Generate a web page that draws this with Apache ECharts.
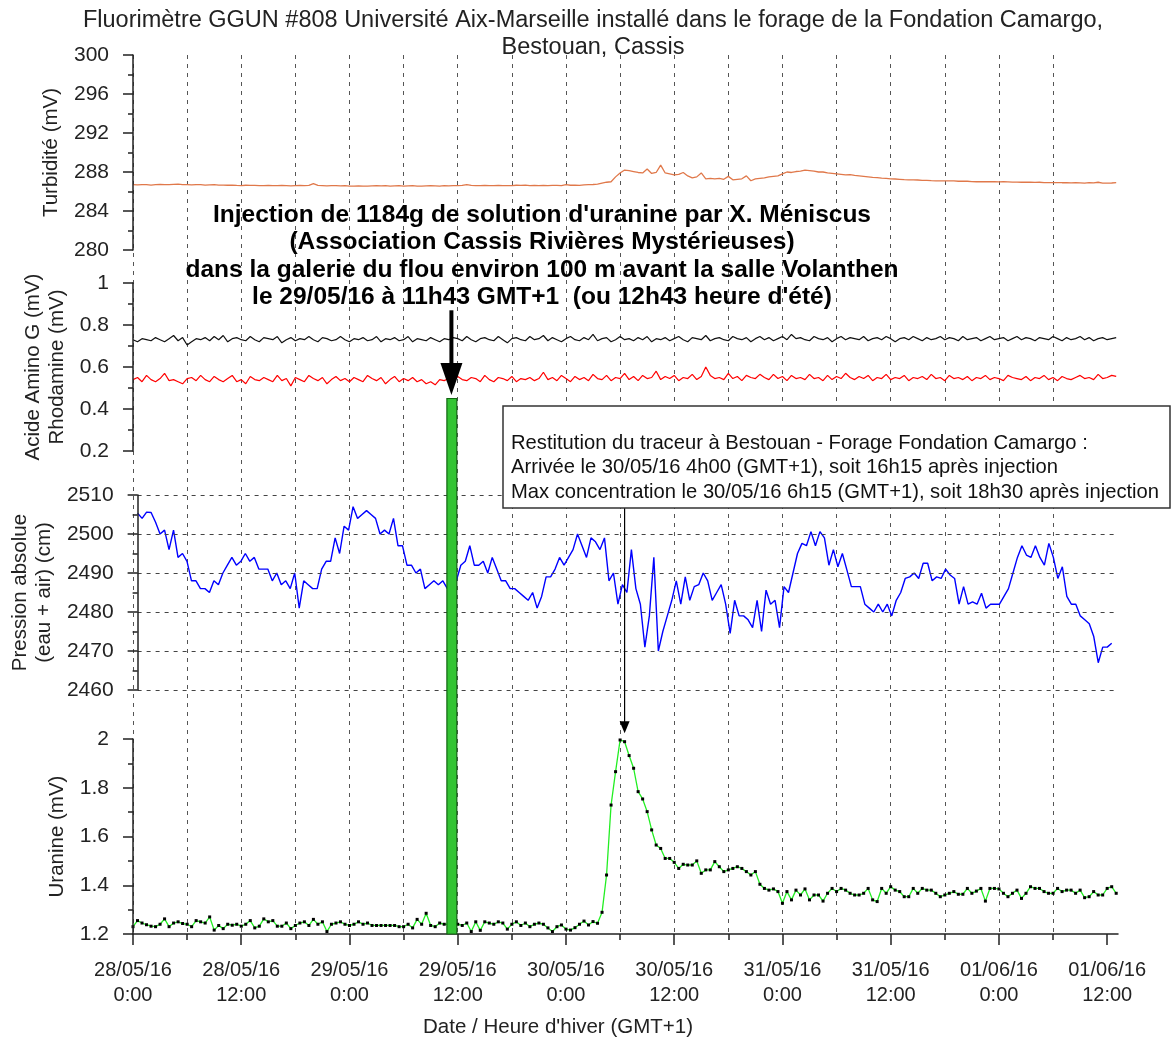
<!DOCTYPE html>
<html><head><meta charset="utf-8">
<script src="https://cdn.jsdelivr.net/npm/echarts@6/dist/echarts.min.js"></script>
<style>html,body{margin:0;padding:0;background:#fff}#c{width:1175px;height:1039px}</style>
</head><body><div id="c"></div>
<script>
// ---------- DATA (time in hours since 28/05/16 0:00, GMT+1) ----------
const step = 0.5;        // hours between samples

const turbidite = [286.7,286.68,286.7,286.7,286.66,286.7,286.72,286.7,286.7,286.74,
286.75,286.7,286.7,286.68,286.7,286.7,286.66,286.68,286.7,286.66,
286.66,286.64,286.65,286.62,286.6,286.64,286.62,286.62,286.6,286.6,
286.62,286.6,286.6,286.62,286.6,286.58,286.6,286.62,286.6,286.62,
286.8,286.62,286.6,286.58,286.6,286.6,286.58,286.6,286.56,286.56,
286.58,286.56,286.56,286.58,286.6,286.58,286.6,286.56,286.58,286.6,
286.56,286.58,286.6,286.56,286.56,286.58,286.6,286.58,286.56,286.6,
286.58,286.6,286.6,286.62,286.7,286.62,286.6,286.6,286.62,286.6,
286.6,286.62,286.6,286.6,286.6,286.64,286.62,286.66,286.6,286.62,
286.6,286.62,286.6,286.62,286.62,286.6,286.7,286.64,286.65,286.62,
286.68,286.7,286.72,286.75,286.85,286.95,287.0,287.5,287.9,288.2,
288.15,288.05,287.95,287.9,288.3,287.85,287.95,288.7,287.9,287.8,
287.7,287.75,287.95,287.6,287.4,287.5,287.9,287.3,287.35,287.3,
287.35,287.25,287.55,287.2,287.25,287.3,287.6,287.1,287.3,287.35,
287.4,287.5,287.55,287.6,287.8,288.0,287.95,288.05,288.1,288.2,
288.15,288.1,288.0,288.0,287.9,287.85,287.8,287.75,287.7,287.72,
287.65,287.6,287.55,287.5,287.45,287.42,287.38,287.35,287.3,287.28,
287.25,287.22,287.2,287.2,287.18,287.15,287.15,287.12,287.1,287.1,
287.1,287.08,287.08,287.05,287.05,287.05,287.02,287.0,287.0,287.02,
287.0,287.0,286.98,287.0,286.98,286.96,286.96,286.95,286.95,286.96,
286.94,286.95,286.92,286.92,286.9,286.92,286.9,286.9,286.88,286.9,
286.88,286.86,286.9,286.88,286.95,286.86,286.85,286.87,286.9];

const acideAminoG = [.73,.72,.735,.73,.725,.74,.73,.72,.735,.75,
.725,.74,.705,.72,.735,.73,.74,.725,.745,.73,
.75,.72,.735,.74,.73,.725,.745,.73,.72,.74,
.735,.73,.745,.715,.73,.74,.725,.735,.73,.745,
.73,.72,.74,.735,.725,.73,.745,.73,.72,.735,
.73,.74,.725,.73,.745,.72,.735,.73,.74,.725,
.73,.745,.72,.735,.73,.725,.74,.73,.72,.735,
.73,.74,.735,.725,.745,.73,.72,.735,.74,.73,
.725,.745,.73,.715,.735,.74,.73,.725,.745,.73,
.735,.75,.725,.74,.73,.72,.735,.745,.73,.725,
.74,.73,.755,.725,.735,.74,.72,.73,.745,.73,
.735,.725,.74,.73,.745,.72,.735,.73,.74,.725,
.735,.745,.73,.72,.74,.735,.73,.75,.725,.735,
.74,.73,.725,.745,.735,.73,.74,.72,.735,.745,
.73,.74,.725,.735,.745,.73,.755,.735,.74,.73,
.725,.745,.735,.73,.74,.72,.735,.745,.73,.74,
.735,.73,.745,.725,.735,.74,.73,.745,.735,.72,
.735,.74,.73,.745,.735,.725,.74,.73,.735,.745,
.73,.74,.735,.725,.745,.73,.735,.74,.725,.735,
.745,.73,.735,.74,.725,.735,.745,.73,.74,.735,
.725,.74,.735,.73,.745,.735,.725,.74,.73,.735,
.745,.73,.74,.725,.735,.74,.73,.735,.74];

const rhodamine = [.54,.55,.53,.56,.54,.53,.545,.57,.535,.54,
.53,.52,.545,.55,.535,.56,.54,.53,.555,.54,
.53,.545,.56,.53,.54,.52,.555,.54,.535,.55,
.54,.53,.56,.535,.545,.51,.55,.54,.53,.56,
.545,.535,.55,.52,.54,.555,.535,.545,.53,.55,
.54,.53,.56,.545,.535,.55,.52,.54,.555,.53,
.545,.535,.55,.53,.54,.52,.53,.515,.54,.535,
.545,.53,.555,.54,.535,.55,.545,.53,.56,.54,
.53,.55,.545,.535,.555,.53,.545,.54,.55,.535,
.545,.575,.54,.55,.535,.56,.545,.53,.555,.54,
.55,.535,.565,.545,.54,.56,.535,.55,.545,.57,
.54,.555,.535,.56,.545,.55,.58,.54,.555,.545,
.56,.535,.55,.545,.565,.54,.555,.60,.56,.545,
.55,.54,.57,.545,.555,.535,.56,.55,.545,.565,
.55,.54,.565,.545,.555,.535,.56,.545,.55,.54,
.565,.545,.55,.535,.56,.54,.555,.545,.57,.55,
.54,.555,.545,.56,.535,.55,.545,.565,.54,.55,
.545,.56,.535,.55,.545,.555,.54,.565,.545,.55,
.535,.56,.545,.55,.54,.555,.535,.55,.545,.56,
.54,.55,.545,.535,.56,.55,.545,.54,.555,.535,
.55,.545,.56,.54,.55,.535,.555,.545,.54,.55,
.56,.545,.55,.54,.565,.545,.55,.56,.555];

const pression = [2505.3,2504,2505.6,2505.5,2503,2500,2501,2496,2501,2494,
2495,2493,2488,2488,2486,2486,2485,2488,2487,2490,
2492,2494,2492,2493,2495,2493,2494,2491,2491,2491,
2488,2490,2487,2488,2486,2490,2481,2488,2487,2486,
2486,2491,2493,2493,2499,2495,2502,2501,2507,2504,
2505,2506,2505,2504,2500,2501,2500,2504,2497,2497,
2492,2492,2490,2491,2486,2487,2488,2487,2488,2486,
2489,2488,2492,2493,2497,2492,2492,2493,2490,2494,
2491,2488,2488,2486,2486,2485,2484,2483,2485,2481,
2484,2489,2489,2491,2494,2492,2494,2496,2500,2497,
2494,2499,2498,2496,2499,2488,2490,2482,2487,2485,
2496,2486,2482,2471,2479,2494,2470,2475,2479,2483,
2488,2482,2489,2483,2486.5,2487,2490,2488,2483,2485,
2487,2482,2474.5,2483,2479,2479,2478,2476,2483,2475,
2485.6,2482,2483,2476,2486.5,2485,2490,2495,2497.6,2497,
2500.6,2497,2500.6,2499,2492,2496,2491.6,2495,2490.8,2486.5,
2486.5,2486.5,2482,2481,2480,2482,2480,2482,2479,2483,
2485,2488.6,2489,2490,2488.6,2492.5,2492.5,2488,2489,2488.6,
2491,2489.5,2488.6,2482,2486.5,2482,2482.6,2482,2484.8,2481,
2482,2482,2482,2484,2486,2490,2494,2497,2494.6,2494,
2497,2494,2492,2497.6,2494,2488.6,2491.6,2484,2482,2482,
2479,2478,2477,2473.7,2467,2471,2471,2472];

const uranine = [1.23,1.255,1.245,1.238,1.232,1.23,1.24,1.262,1.23,1.245,
1.25,1.243,1.24,1.23,1.255,1.25,1.245,1.27,1.216,1.235,
1.222,1.24,1.236,1.24,1.232,1.24,1.255,1.225,1.232,1.262,
1.25,1.255,1.232,1.232,1.245,1.222,1.235,1.245,1.25,1.235,
1.26,1.24,1.25,1.21,1.24,1.245,1.25,1.24,1.235,1.24,
1.25,1.24,1.245,1.235,1.235,1.235,1.235,1.235,1.235,1.23,
1.23,1.24,1.225,1.26,1.24,1.285,1.235,1.23,1.245,1.24,
1.24,1.24,1.24,1.235,1.245,1.21,1.25,1.215,1.25,1.245,
1.24,1.25,1.245,1.22,1.24,1.25,1.235,1.245,1.23,1.24,
1.245,1.24,1.225,1.21,1.23,1.237,1.22,1.216,1.226,1.24,
1.253,1.237,1.251,1.244,1.289,1.442,1.729,1.866,1.996,1.989,
1.932,1.88,1.784,1.754,1.702,1.627,1.565,1.551,1.51,1.51,
1.494,1.469,1.486,1.483,1.483,1.5,1.449,1.463,1.463,1.497,
1.476,1.456,1.463,1.469,1.476,1.469,1.456,1.442,1.456,1.404,
1.387,1.38,1.385,1.374,1.326,1.374,1.34,1.38,1.36,1.385,
1.34,1.36,1.36,1.335,1.367,1.387,1.374,1.387,1.38,1.367,
1.36,1.36,1.367,1.387,1.34,1.333,1.387,1.367,1.394,1.38,
1.374,1.353,1.353,1.387,1.367,1.387,1.38,1.38,1.367,1.353,
1.36,1.367,1.374,1.363,1.363,1.387,1.367,1.376,1.387,1.335,
1.387,1.387,1.385,1.367,1.353,1.367,1.38,1.346,1.367,1.394,
1.387,1.387,1.374,1.367,1.367,1.387,1.374,1.38,1.38,1.367,
1.38,1.349,1.353,1.374,1.36,1.36,1.387,1.394,1.367];

const xMajorHours = [0,12,24,36,48,60,72,84,96,108];
const xMinorHours = [6,18,30,42,54,66,78,90,102];
const xGridHours = [0,6,12,18,24,30,36,42,48,54,60,66,72,78,84,90,96,102,108];
const xTickLabels = ['28/05/16\n0:00','28/05/16\n12:00','29/05/16\n0:00','29/05/16\n12:00','30/05/16\n0:00','30/05/16\n12:00','31/05/16\n0:00','31/05/16\n12:00','01/06/16\n0:00','01/06/16\n12:00'];
const xMin = 0, xMax = 109.2;

// annotations (hours / axis values)
const injectionStart = 34.8, injectionEnd = 35.9, injectionTop = 0.45;
const injectionArrowHour = 35.3;
const peakArrowHour = 54.5, peakValue = 2.02;

// ---------- CHART ----------
const FONT = "'Liberation Sans', Arial, sans-serif";
const TXT = '#222';
const pairs = (arr, st) => arr.map((v, i) => [+(i * st).toFixed(3), v]);

const chart = echarts.init(document.getElementById('c'), null, {renderer: 'canvas'});

const L = 133, R = 57;
const grids = [
  {left: L, right: R, top: 55, height: 195},
  {left: L, right: R, top: 283, height: 168},
  {left: L, right: R, top: 495, height: 195},
  {left: L, right: R, top: 739, height: 195},
  {left: L, right: R, top: 55, height: 879}
];

function hiddenX(gi) {
  return {type: 'value', gridIndex: gi, min: xMin, max: xMax, show: false};
}
function yAx(gi, min, max, interval, name, nameGap, extra) {
  return Object.assign({
    type: 'value', gridIndex: gi, min: min, max: max, interval: interval,
    name: name, nameLocation: 'middle', nameRotate: 90, nameGap: nameGap,
    nameTextStyle: {fontFamily: FONT, fontSize: 20.5, color: TXT, lineHeight: 24},
    axisLine: {show: true, onZero: false, lineStyle: {color: TXT, width: 1.5}},
    axisTick: {show: true, length: 10, lineStyle: {color: TXT, width: 1.5}},
    minorTick: {show: true, splitNumber: 2, length: 5, lineStyle: {color: TXT, width: 1.5}},
    axisLabel: {fontFamily: FONT, fontSize: 21, color: TXT, margin: 24, formatter: v => String(+v.toFixed(2))},
    splitLine: {show: false},
    z: 10
  }, extra || {});
}

const option = {
  backgroundColor: '#fff',
  animation: false,
  title: {
    text: 'Fluorimètre GGUN #808 Université Aix-Marseille installé dans le forage de la Fondation Camargo,\nBestouan, Cassis',
    left: 588, top: 2, textAlign: 'center',
    textStyle: {fontFamily: FONT, fontSize: 23.5, fontWeight: 'normal', color: TXT, lineHeight: 27}
  },
  grid: grids,
  xAxis: [
    hiddenX(0), hiddenX(1), hiddenX(2),
    {
      type: 'value', gridIndex: 3, min: xMin, max: xMax, position: 'bottom',
      axisLine: {show: true, onZero: false, lineStyle: {color: TXT, width: 1.5}},
      axisTick: {show: true, length: 11, customValues: xMajorHours, lineStyle: {color: TXT, width: 1.5}},
      axisLabel: {
        customValues: xMajorHours, fontFamily: FONT, fontSize: 20, color: TXT, lineHeight: 25, margin: 24,
        formatter: v => xTickLabels[xMajorHours.indexOf(Math.round(v))] || ''
      },
      splitLine: {show: false}, z: 10
    },
    {
      type: 'value', gridIndex: 3, min: xMin, max: xMax, position: 'bottom',
      axisLine: {show: false, onZero: false},
      axisTick: {show: true, length: 6, customValues: xMinorHours, lineStyle: {color: TXT, width: 1.5}},
      axisLabel: {show: false},
      splitLine: {show: false}
    },
    {
      type: 'value', gridIndex: 4, min: xMin, max: xMax,
      axisLine: {show: false}, axisLabel: {show: false},
      axisTick: {show: false, customValues: xGridHours},
      splitLine: {show: true, showMaxLine: false, lineStyle: {color: '#555', width: 1, type: [4, 5]}}
    }
  ],
  yAxis: [
    yAx(0, 280, 300, 4, 'Turbidité (mV)', 64),
    yAx(1, 0.2, 1, 0.2, 'Acide Amino G (mV)\nRhodamine (mV)', 58),
    yAx(2, 2460, 2510, 10, 'Pression absolue\n(eau + air) (cm)', 74,
      {splitLine: {show: true, lineStyle: {color: '#444', width: 1, type: [4, 5]}}}),
    yAx(3, 1.2, 2, 0.2, 'Uranine (mV)', 57),
    {type: 'value', gridIndex: 4, min: 0, max: 1, show: false}
  ],
  series: [
    {type: 'line', name: 'Turbidité', xAxisIndex: 0, yAxisIndex: 0, data: pairs(turbidite, step),
      showSymbol: false, lineStyle: {color: '#e0784a', width: 1.3}, z: 3},
    {type: 'line', name: 'Acide Amino G', xAxisIndex: 1, yAxisIndex: 1, data: pairs(acideAminoG, step),
      showSymbol: false, lineStyle: {color: '#111', width: 1.2}, z: 3},
    {type: 'line', name: 'Rhodamine', xAxisIndex: 1, yAxisIndex: 1, data: pairs(rhodamine, step),
      showSymbol: false, lineStyle: {color: '#ff0000', width: 1.2}, z: 3},
    {type: 'line', name: 'Pression', xAxisIndex: 2, yAxisIndex: 2, data: pairs(pression, step),
      showSymbol: false, lineStyle: {color: '#0000ff', width: 1.4}, z: 3},
    {type: 'line', name: 'Uranine', xAxisIndex: 3, yAxisIndex: 3, data: pairs(uranine, step),
      showSymbol: true, symbol: 'rect', symbolSize: 3,
      itemStyle: {color: '#000'}, lineStyle: {color: '#22ee22', width: 1.3}, z: 3}
  ]
};
chart.setOption(option);

// ---------- annotations positioned through the axes ----------
function px(ax, x, y) { return chart.convertToPixel({xAxisIndex: ax, yAxisIndex: ax}, [x, y]); }
const barTL = px(1, injectionStart, injectionTop);
const barBR = px(3, injectionEnd, 1.2);
const arX = px(1, injectionArrowHour, 0.5)[0];
const arTop = px(1, injectionArrowHour, 0.87)[1];
const arTip = px(1, injectionArrowHour, 0.467)[1];
const pkX = px(3, peakArrowHour, peakValue)[0];
const pkTip = px(3, peakArrowHour, peakValue)[1];

const boxL = 503, boxT = 406, boxW = 667, boxH = 102;

chart.setOption({
  graphic: [
    {type: 'rect', z: 50, shape: {x: barTL[0], y: barTL[1], width: barBR[0] - barTL[0], height: barBR[1] - barTL[1]},
      style: {fill: '#33c433', stroke: '#116611', lineWidth: 1.2}},
    {type: 'line', z: 60, shape: {x1: arX, y1: arTop, x2: arX, y2: arTip - 30}, style: {stroke: '#000', lineWidth: 4}},
    {type: 'polygon', z: 60, shape: {points: [[arX - 11, arTip - 32], [arX + 11, arTip - 32], [arX, arTip]]}, style: {fill: '#000'}},
    {type: 'text', z: 60, style: {
      x: 542, y: 201, textAlign: 'center', textVerticalAlign: 'top',
      text: "Injection de 1184g de solution d'uranine par X. Méniscus\n(Association Cassis Rivières Mystérieuses)\ndans la galerie du flou environ 100 m avant la salle Volanthen\nle 29/05/16 à 11h43 GMT+1  (ou 12h43 heure d'été)",
      font: 'bold 24.5px ' + FONT, lineHeight: 27.5, fill: '#000'}},
    {type: 'rect', z: 70, shape: {x: boxL, y: boxT, width: boxW, height: boxH},
      style: {fill: '#fff', stroke: '#333', lineWidth: 1.5}},
    {type: 'text', z: 71, style: {
      x: boxL + 8, y: 431, textAlign: 'left', textVerticalAlign: 'top',
      text: 'Restitution du traceur à Bestouan - Forage Fondation Camargo :\nArrivée le 30/05/16 4h00 (GMT+1), soit 16h15 après injection\nMax concentration le 30/05/16 6h15 (GMT+1), soit 18h30 après injection',
      font: '20.2px ' + FONT, lineHeight: 24.5, fill: '#111'}},
    {type: 'line', z: 60, shape: {x1: pkX, y1: boxT + boxH, x2: pkX, y2: pkTip - 12}, style: {stroke: '#000', lineWidth: 1.2}},
    {type: 'polygon', z: 60, shape: {points: [[pkX - 5, pkTip - 13], [pkX + 5, pkTip - 13], [pkX, pkTip - 1]]}, style: {fill: '#000'}},
    {type: 'text', z: 60, style: {
      x: 558, y: 1017, textAlign: 'center', textVerticalAlign: 'top',
      text: "Date / Heure d'hiver (GMT+1)", font: '20.5px ' + FONT, fill: TXT}}
  ]
});
</script></body></html>
